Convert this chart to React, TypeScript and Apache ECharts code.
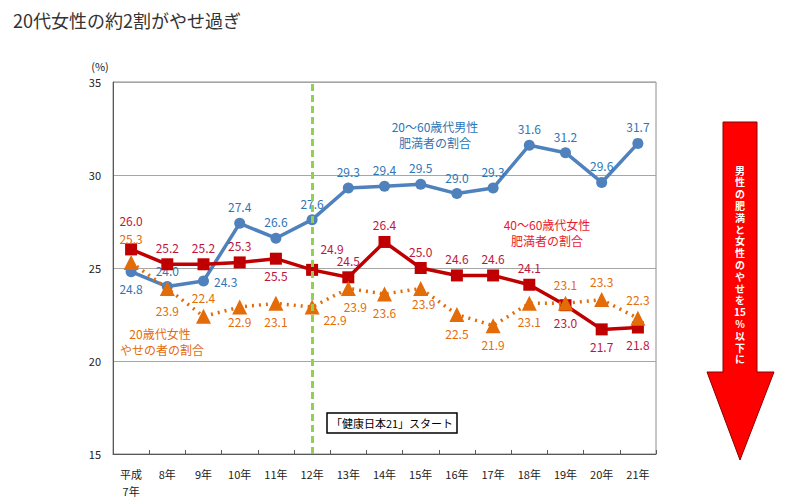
import React, { useEffect, useRef } from "react";
import * as echarts from "echarts";

const categories = ["平成\n7年", "8年", "9年", "10年", "11年", "12年", "13年", "14年", "15年", "16年", "17年", "18年", "19年", "20年", "21年"];
const menObese = [24.8, 24.0, 24.3, 27.4, 26.6, 27.6, 29.3, 29.4, 29.5, 29.0, 29.3, 31.6, 31.2, 29.6, 31.7];
const womenObese = [26.0, 25.2, 25.2, 25.3, 25.5, 24.9, 24.5, 26.4, 25.0, 24.6, 24.6, 24.1, 23.0, 21.7, 21.8];
const womenThin = [25.3, 23.9, 22.4, 22.9, 23.1, 22.9, 23.9, 23.6, 23.9, 22.5, 21.9, 23.1, 23.1, 23.3, 22.3];
const startCategory = "12年";
const arrowChars = ["男", "性", "の", "肥", "満", "と", "女", "性", "の", "や", "せ", "を", "15", "%", "以", "下", "に"];

const FONT = "'Noto Sans CJK JP', 'Noto Sans', sans-serif";

const bluePos = ["bottom", "top", "right", "top", "top", "top", "top", "top", "top", "top", "top", "top", "top", "top", "top"];
const redPos = ["top", "top", "top", "top", "bottom", "top", "top", "top", "top", "top", "top", "top", "bottom", "bottom", "bottom"];
const redOff: Record<number, number[]> = { 0: [0, -12], 5: [20, -4] };
const orangePos = ["top", "bottom", "top", "bottom", "bottom", "bottom", "bottom", "bottom", "bottom", "bottom", "bottom", "bottom", "top", "top", "top"];
const orangeOff: Record<number, number[]> = { 0: [0, -5], 1: [0, 4], 3: [0, -4], 5: [23, -6], 6: [7, 0], 8: [3, -3] };

function build(values: number[], pos: string[], off: Record<number, number[]>) {
  return values.map((v, i) => ({
    value: v,
    label: { position: pos[i], offset: off[i] || [0, 0] },
  }));
}

export default function App() {
  const ref = useRef<HTMLDivElement>(null);
  useEffect(() => {
    if (!ref.current) return;
    const chart = echarts.init(ref.current, null, { renderer: "svg" });
    const labelBase = { show: true, fontSize: 12, fontFamily: FONT, formatter: (p: any) => Number(p.value).toFixed(1) };
    const arrowTexts = arrowChars.map((c, i) => ({
      type: "text",
      x: 740,
      y: 170 + i * 11.8,
      z: 30,
      style: { text: c, fontSize: 10, fontWeight: "bold", fontFamily: FONT, fill: "#fff", textAlign: "center", textVerticalAlign: "middle" },
    }));
    chart.setOption({
      animation: false,
      backgroundColor: "#fff",
      title: {
        text: "20代女性の約2割がやせ過ぎ",
        left: 8,
        top: 6,
        textStyle: { fontSize: 18, fontWeight: "normal", color: "#333", fontFamily: FONT },
      },
      grid: { left: 113, right: 144, top: 82, bottom: 46, show: true, borderColor: "#8c8c8c", borderWidth: 1 },
      xAxis: {
        type: "category",
        data: categories,
        boundaryGap: true,
        axisLine: { lineStyle: { color: "#595959", width: 1 } },
        axisTick: { show: true, inside: true, length: 4, lineStyle: { color: "#595959" } },
        axisLabel: { fontSize: 11, color: "#222", fontFamily: FONT, margin: 11, lineHeight: 17 },
      },
      yAxis: {
        type: "value",
        min: 15,
        max: 35,
        interval: 5,
        axisLine: { show: true, lineStyle: { color: "#595959" } },
        axisTick: { show: false },
        axisLabel: { fontSize: 11, color: "#222", fontFamily: FONT, margin: 12 },
        splitLine: { lineStyle: { color: "#a6a6a6", width: 1 } },
      },
      series: [
        {
          type: "line",
          name: "20～60歳代男性肥満者の割合",
          data: build(menObese, bluePos, {}),
          symbol: "circle",
          symbolSize: 11,
          lineStyle: { color: "#4F81BD", width: 3.5 },
          itemStyle: { color: "#4F81BD" },
          label: { ...labelBase, color: "#2E75B6" },
          z: 2,
        },
        {
          type: "line",
          name: "40～60歳代女性肥満者の割合",
          data: build(womenObese, redPos, redOff),
          symbol: "rect",
          symbolSize: 12,
          lineStyle: { color: "#C00000", width: 3.5 },
          itemStyle: { color: "#C00000" },
          label: { ...labelBase, color: "#C0143C" },
          z: 3,
        },
        {
          type: "line",
          name: "20歳代女性やせの者の割合",
          data: build(womenThin, orangePos, orangeOff),
          symbol: "triangle",
          symbolSize: 15,
          lineStyle: { color: "#E36C09", width: 3.5, type: [2, 5] },
          itemStyle: { color: "#E36C09" },
          label: { ...labelBase, color: "#E46C0A" },
          z: 4,
        },
        {
          type: "line",
          data: [],
          z: 10,
          markLine: {
            silent: true,
            symbol: "none",
            label: { show: false },
            lineStyle: { color: "#92D050", width: 3, type: [7, 4] },
            data: [{ xAxis: startCategory }],
          },
        },
      ],
      graphic: [
        { type: "text", x: 100, y: 66, style: { text: "(%)", fontSize: 11, fontFamily: FONT, fill: "#222", textAlign: "center", textVerticalAlign: "middle" } },
        { type: "text", x: 435, y: 126, style: { text: "20～60歳代男性", fontSize: 12, fontFamily: FONT, fill: "#2E75B6", textAlign: "center", textVerticalAlign: "middle" } },
        { type: "text", x: 435, y: 142, style: { text: "肥満者の割合", fontSize: 12, fontFamily: FONT, fill: "#2E75B6", textAlign: "center", textVerticalAlign: "middle" } },
        { type: "text", x: 547, y: 224, style: { text: "40～60歳代女性", fontSize: 12, fontFamily: FONT, fill: "#E8192C", textAlign: "center", textVerticalAlign: "middle" } },
        { type: "text", x: 547, y: 240, style: { text: "肥満者の割合", fontSize: 12, fontFamily: FONT, fill: "#E8192C", textAlign: "center", textVerticalAlign: "middle" } },
        { type: "text", x: 160, y: 333, style: { text: "20歳代女性", fontSize: 12, fontFamily: FONT, fill: "#E46C0A", textAlign: "center", textVerticalAlign: "middle" } },
        { type: "text", x: 162, y: 349, style: { text: "やせの者の割合", fontSize: 12, fontFamily: FONT, fill: "#E46C0A", textAlign: "center", textVerticalAlign: "middle" } },
        { type: "rect", shape: { x: 327, y: 413, width: 130, height: 20 }, style: { fill: "#fff", stroke: "#000", lineWidth: 1.5 }, z: 20 },
        { type: "text", x: 392, y: 423, z: 21, style: { text: "「健康日本21」スタート", fontSize: 11, fontFamily: FONT, fill: "#000", textAlign: "center", textVerticalAlign: "middle" } },
        {
          type: "polygon",
          shape: { points: [[723, 122], [757, 122], [757, 372], [774, 372], [740, 460], [707, 372], [723, 372]] },
          style: { fill: "#FF0000", stroke: "#8B0000", lineWidth: 1 },
        },
        ...arrowTexts,
      ],
    });
    return () => chart.dispose();
  }, []);
  return <div ref={ref} style={{ position: "fixed", left: 0, top: 0, width: 800, height: 500, background: "#fff" }} />;
}
